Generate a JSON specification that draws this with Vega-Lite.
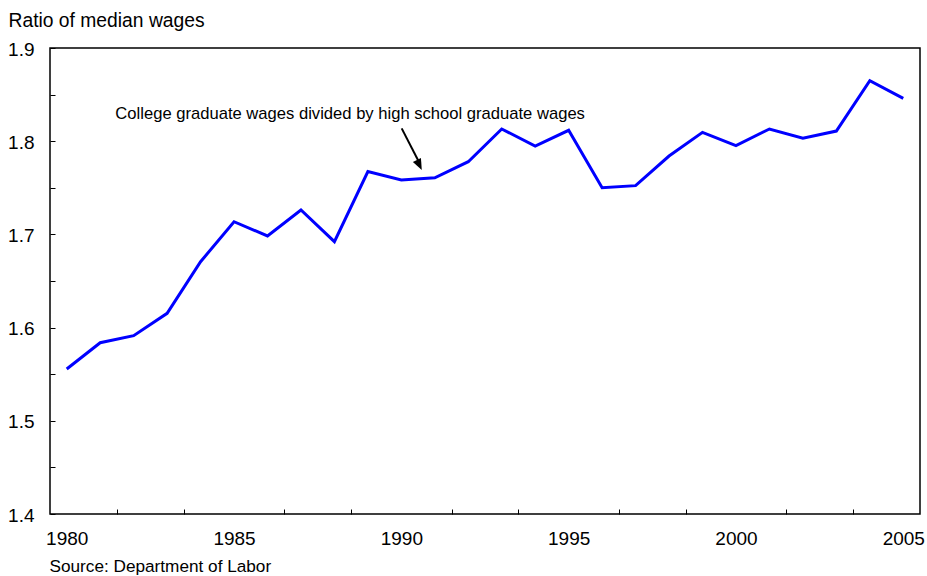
{
  "$schema": "https://vega.github.io/schema/vega-lite/v6.json",
  "width": 870,
  "height": 466,
  "autosize": "none",
  "padding": {"left": 50, "top": 48, "right": 7, "bottom": 62},
  "background": "white",
  "config": {
    "font": "Liberation Sans",
    "view": {"stroke": "#000", "strokeWidth": 1.5},
    "axis": {"grid": false, "domain": false, "labelColor": "#000", "titleColor": "#000", "tickColor": "#000", "labelFontWeight": "normal", "titleFontWeight": "normal"}
  },
  "layer": [
    {
      "data": {"values": [
        {"year": 1980, "ratio": 1.5556},
        {"year": 1981, "ratio": 1.5838},
        {"year": 1982, "ratio": 1.5913},
        {"year": 1983, "ratio": 1.6153},
        {"year": 1984, "ratio": 1.6707},
        {"year": 1985, "ratio": 1.7136},
        {"year": 1986, "ratio": 1.6983},
        {"year": 1987, "ratio": 1.7262},
        {"year": 1988, "ratio": 1.6922},
        {"year": 1989, "ratio": 1.7675},
        {"year": 1990, "ratio": 1.7584},
        {"year": 1991, "ratio": 1.7608},
        {"year": 1992, "ratio": 1.778},
        {"year": 1993, "ratio": 1.8131},
        {"year": 1994, "ratio": 1.7948},
        {"year": 1995, "ratio": 1.8117},
        {"year": 1996, "ratio": 1.7501},
        {"year": 1997, "ratio": 1.7523},
        {"year": 1998, "ratio": 1.7841},
        {"year": 1999, "ratio": 1.8095},
        {"year": 2000, "ratio": 1.7952},
        {"year": 2001, "ratio": 1.8131},
        {"year": 2002, "ratio": 1.8031},
        {"year": 2003, "ratio": 1.8109},
        {"year": 2004, "ratio": 1.8649},
        {"year": 2005, "ratio": 1.846}
      ]},
      "mark": {"type": "line", "color": "#0000FF", "strokeWidth": 3, "strokeJoin": "miter"},
      "encoding": {
        "x": {
          "field": "year", "type": "quantitative",
          "scale": {"domain": [1979.5, 2005.5], "nice": false, "zero": false},
          "axis": {
            "values": [1980, 1980.5, 1981.5, 1982.5, 1983.5, 1984.5, 1985, 1985.5, 1986.5, 1987.5, 1988.5, 1989.5, 1990, 1990.5, 1991.5, 1992.5, 1993.5, 1994.5, 1995, 1995.5, 1996.5, 1997.5, 1998.5, 1999.5, 2000, 2000.5, 2001.5, 2002.5, 2003.5, 2004.5, 2005],
            "labelExpr": "datum.value % 5 == 0 ? format(datum.value, 'd') : ''",
            "labelOverlap": false,
            "labelFlush": false,
            "labelFontSize": 19,
            "labelBaseline": "alphabetic",
            "labelPadding": 35,
            "tickSize": -5,
            "tickWidth": 1,
            "tickOpacity": {"condition": {"test": "datum.value % 1 == 0", "value": 0}, "value": 1},
            "title": "Source: Department of Labor",
            "titleFontSize": 17.2,
            "titleAnchor": "start",
            "titleAlign": "left",
            "titleBaseline": "alphabetic",
            "titleX": -1,
            "titleY": 57
          }
        },
        "y": {
          "field": "ratio", "type": "quantitative",
          "scale": {"domain": [1.4, 1.9], "nice": false, "zero": false},
          "axis": {
            "values": [1.4, 1.45, 1.5, 1.55, 1.6, 1.65, 1.7, 1.75, 1.8, 1.85, 1.9],
            "labelExpr": "round(datum.value * 20) % 2 == 0 ? format(datum.value, '.1f') : ''",
            "labelOverlap": false,
            "labelFlush": false,
            "labelFontSize": 19,
            "labelPadding": 21,
            "labelOffset": 1,
            "tickSize": -5,
            "tickWidth": 1,
            "title": "Ratio of median wages",
            "titleFontSize": 19.3,
            "titleAngle": 0,
            "titleAlign": "left",
            "titleBaseline": "alphabetic",
            "titleX": -42,
            "titleY": -22
          }
        }
      }
    },
    {
      "data": {"values": [{"label": "College graduate wages divided by high school graduate wages", "year": 1988.47, "ratio": 1.8238}]},
      "mark": {"type": "text", "fontSize": 16.6, "align": "center", "baseline": "alphabetic", "color": "#000"},
      "encoding": {
        "x": {"field": "year", "type": "quantitative"},
        "y": {"field": "ratio", "type": "quantitative"},
        "text": {"field": "label"}
      }
    },
    {
      "data": {"values": [{"year": 1990.01, "ratio": 1.8138, "year2": 1990.55, "ratio2": 1.776}]},
      "mark": {"type": "rule", "color": "#000", "strokeWidth": 2},
      "encoding": {
        "x": {"field": "year", "type": "quantitative"},
        "y": {"field": "ratio", "type": "quantitative"},
        "x2": {"field": "year2"},
        "y2": {"field": "ratio2"}
      }
    },
    {
      "data": {"values": [{"year": 1990.61, "ratio": 1.769}]},
      "mark": {"type": "point", "shape": "M0,0 L-0.4,-1 L0.4,-1 Z", "filled": true, "color": "#000", "opacity": 1, "size": 500, "angle": -25.6},
      "encoding": {
        "x": {"field": "year", "type": "quantitative"},
        "y": {"field": "ratio", "type": "quantitative"}
      }
    }
  ]
}
